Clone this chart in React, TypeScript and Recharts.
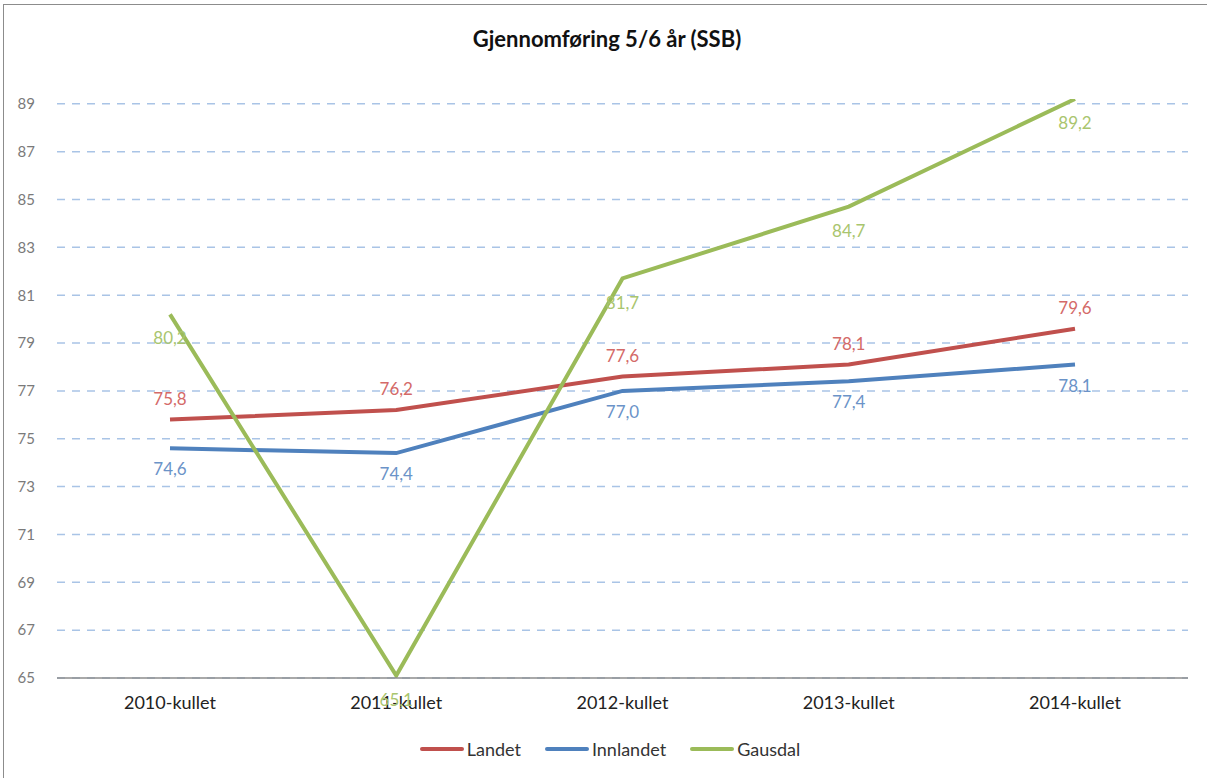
import { LineChart, Line, XAxis, YAxis, CartesianGrid, LabelList } from "recharts";

const categories = ["2010-kullet", "2011-kullet", "2012-kullet", "2013-kullet", "2014-kullet"];
const landet = [75.8, 76.2, 77.6, 78.1, 79.6];
const innlandet = [74.6, 74.4, 77.0, 77.4, 78.1];
const gausdal = [80.2, 65.1, 81.7, 84.7, 89.2];
const yTicks = [65, 67, 69, 71, 73, 75, 77, 79, 81, 83, 85, 87, 89];
const yDomain = [65, 89.2];

const series = [
  { key: "landet", name: "Landet", color: "#C0504D", label: "#D46A68" },
  { key: "innlandet", name: "Innlandet", color: "#4F81BD", label: "#6B93C8" },
  { key: "gausdal", name: "Gausdal", color: "#9BBB59", label: "#A9C56E" },
];

const data = categories.map((c, i) => ({
  cat: c,
  landet: landet[i],
  innlandet: innlandet[i],
  gausdal: gausdal[i],
}));

const FONT = "Lato, 'Open Sans', sans-serif";
const fmt = (v: any) => Number(v).toFixed(1).replace(".", ",");

// only draw grid lines at the tick values, not at the top edge of the plot
const gridLines = ({ offset }: any) =>
  yTicks.map(
    (t) => offset.top + ((yDomain[1] - t) / (yDomain[1] - yDomain[0])) * offset.height
  );

export default function App() {
  return (
    <div style={{ position: "absolute", left: 0, top: 0, width: 1208, height: 778, background: "#fff", fontFamily: FONT }}>
      <div
        style={{
          position: "absolute",
          left: 3,
          top: 4,
          width: 1204,
          height: 774,
          borderLeft: "1px solid #8c8c8c",
          borderTop: "1px solid #8c8c8c",
          boxSizing: "border-box",
        }}
      />
      <div
        style={{
          position: "absolute",
          left: 0,
          width: 1214,
          top: 25,
          textAlign: "center",
          fontSize: 22,
          fontWeight: 700,
          color: "#111",
        }}
      >
        Gjennomføring 5/6 år (SSB)
      </div>
      <div style={{ position: "absolute", left: 0, top: 0 }}>
        <LineChart width={1208} height={778} data={data} margin={{ top: 99, right: 20, bottom: 70, left: 0 }}>
          <CartesianGrid
            horizontal
            vertical={false}
            stroke="#A9C4E6"
            strokeDasharray="8 7"
            strokeWidth={1.5}
            horizontalCoordinatesGenerator={gridLines}
          />
          <XAxis
            dataKey="cat"
            padding={{ left: 113, right: 113 }}
            stroke="#8c8c8c"
            strokeWidth={1.5}
            tickLine={false}
            tick={{ fill: "#222", fontSize: 18, fontFamily: FONT }}
            tickMargin={12}
            height={30}
          />
          <YAxis
            domain={yDomain}
            ticks={yTicks}
            allowDataOverflow
            axisLine={false}
            tickLine={false}
            width={57}
            tickMargin={16}
            tick={{ fill: "#7a7a7a", fontSize: 15, fontFamily: FONT }}
          />
          {series.map((s) => (
            <Line
              key={s.key}
              dataKey={s.key}
              name={s.name}
              stroke={s.color}
              strokeWidth={4}
              dot={false}
              activeDot={false}
              isAnimationActive={false}
            >
              <LabelList
                dataKey={s.key}
                position={s.key === "landet" ? "top" : "bottom"}
                offset={s.key === "gausdal" ? 18 : 15}
                formatter={fmt}
                fill={s.label}
                fontSize={17}
                fontFamily={FONT}
              />
            </Line>
          ))}
        </LineChart>
      </div>
      <div
        style={{
          position: "absolute",
          left: 0,
          width: 1208,
          top: 738,
          display: "flex",
          justifyContent: "center",
          gap: 24,
          fontSize: 18,
          color: "#333",
          paddingLeft: 12,
          boxSizing: "border-box",
        }}
      >
        {series.map((s) => (
          <div key={s.key} style={{ display: "flex", alignItems: "center" }}>
            <span style={{ display: "inline-block", width: 44, height: 4, background: s.color, borderRadius: 2, marginRight: 3 }} />
            <span>{s.name}</span>
          </div>
        ))}
      </div>
    </div>
  );
}
